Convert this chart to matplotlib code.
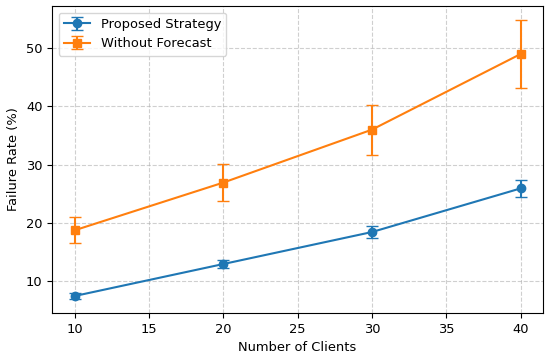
import numpy as np
import matplotlib.pyplot as plt

plt.rcParams['font.size'] = 9.4

clients = [10, 20, 30, 40]

proposed = [7.4, 12.9, 18.4, 25.9]
proposed_err = [0.5, 0.75, 1.05, 1.5]

no_forecast = [18.7, 26.9, 36.0, 49.0]
no_forecast_err = [2.25, 3.2, 4.3, 5.85]

fig, ax = plt.subplots(figsize=(5.5, 3.58), dpi=100)

ax.errorbar(clients, proposed, yerr=proposed_err, marker='o', capsize=4,
            label='Proposed Strategy')
ax.errorbar(clients, no_forecast, yerr=no_forecast_err, marker='s', capsize=4,
            label='Without Forecast')

ax.set_xlabel('Number of Clients')
ax.set_ylabel('Failure Rate (%)')
ax.grid(True, linestyle='--', alpha=0.6)
ax.legend(loc='upper left')

fig.subplots_adjust(left=0.095, right=0.987, top=0.983, bottom=0.126)
fig.savefig('out.png')
